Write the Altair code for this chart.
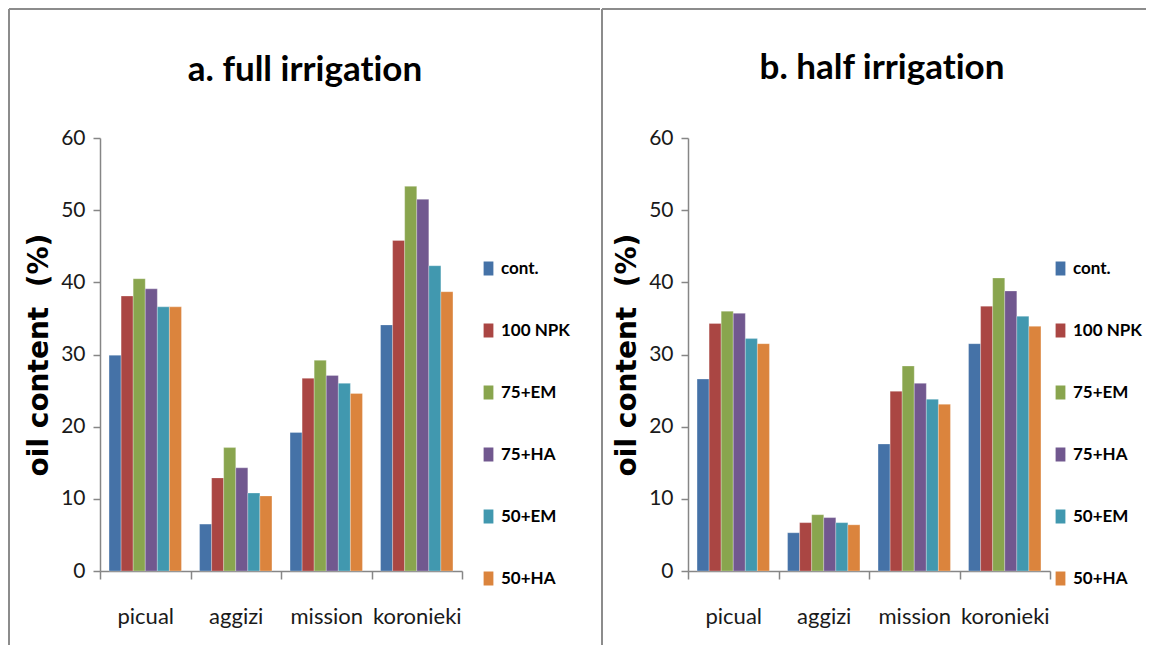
import altair as alt
import pandas as pd

# ---------------- data ----------------
varieties = ["picual", "aggizi", "mission", "koronieki"]
treatments = ["cont.", "100 NPK", "75+EM", "75+HA", "50+EM", "50+HA"]
palette = ["#4572A7", "#AA4643", "#89A54E", "#71588F", "#4198AF", "#DB843D"]

# a. full irrigation (values per variety, in the order of `varieties`)
full_cont = [29.9, 6.5, 19.2, 34.1]
full_npk = [38.1, 12.9, 26.7, 45.8]
full_75em = [40.5, 17.1, 29.2, 53.3]
full_75ha = [39.1, 14.3, 27.1, 51.5]
full_50em = [36.6, 10.8, 26.0, 42.3]
full_50ha = [36.6, 10.4, 24.6, 38.7]

# b. half irrigation
half_cont = [26.6, 5.3, 17.6, 31.5]
half_npk = [34.3, 6.7, 24.9, 36.7]
half_75em = [36.0, 7.8, 28.4, 40.6]
half_75ha = [35.7, 7.4, 26.0, 38.8]
half_50em = [32.2, 6.7, 23.8, 35.3]
half_50ha = [31.5, 6.4, 23.1, 33.9]

y_ticks = [0, 10, 20, 30, 40, 50, 60]
# a zero-width non-joiner keeps the font from fusing "ti" into a ligature
titles = ["a. full irrigat\u200cion", "b. half irrigat\u200cion"]
y_title = "oil content\u00a0\u00a0(%)"


def make_df(series):
    rows = []
    for t, vals in zip(treatments, series):
        for v, val in zip(varieties, vals):
            rows.append({"variety": v, "treatment": t, "oil": val})
    return pd.DataFrame(rows)


full_df = make_df([full_cont, full_npk, full_75em, full_75ha, full_50em, full_50ha])
half_df = make_df([half_cont, half_npk, half_75em, half_75ha, half_50em, half_50ha])

# ---------------- styling ----------------
W, H = 362, 433
FONT = "Lato"
AXIS_GREY = "#868686"
FRAME_GREY = "#8c8c8c"


def panel(df, title, frame_left, frame_right, title_x, title_y, legend_x):
    bars = alt.Chart(df).mark_bar(stroke="white", strokeWidth=0.6, strokeOpacity=0.45).encode(
        x=alt.X(
            "variety:N",
            sort=varieties,
            scale=alt.Scale(paddingInner=0, paddingOuter=0),
            axis=alt.Axis(
                title=None,
                labelAngle=0,
                tickBand="extent",
                tickSize=8,
                tickColor=AXIS_GREY,
                tickWidth=1.5,
                domainColor=AXIS_GREY,
                domainWidth=1.5,
                labelFont=FONT,
                labelFontSize=22,
                labelColor="#1a1a1a",
                labelPadding=27,
            ),
        ),
        xOffset=alt.XOffset(
            "treatment:N",
            sort=treatments,
            scale=alt.Scale(paddingInner=0, paddingOuter=0.75),
        ),
        y=alt.Y(
            "oil:Q",
            scale=alt.Scale(domain=[0, 60], nice=False),
            axis=alt.Axis(
                values=y_ticks,
                grid=False,
                title=y_title,
                titleFont="DejaVu Sans",
                titleFontWeight="bold",
                titleFontSize=28,
                titleColor="#000000",
                titlePadding=7,
                tickSize=7,
                tickColor=AXIS_GREY,
                tickWidth=1.5,
                domainColor=AXIS_GREY,
                domainWidth=1.5,
                labelFont=FONT,
                labelFontSize=21,
                labelColor="#1a1a1a",
                labelPadding=8,
            ),
        ),
        color=alt.Color(
            "treatment:N",
            sort=treatments,
            scale=alt.Scale(domain=treatments, range=palette),
            legend=alt.Legend(
                title=None,
                orient="none",
                legendX=legend_x,
                legendY=122,
                symbolType="M-0.7,-1H0.7V1H-0.7Z",
                symbolSize=196,
                symbolStrokeWidth=0,
                labelFont=FONT,
                labelFontSize=17,
                labelFontWeight="bold",
                labelColor="#000000",
                rowPadding=44,
                labelOffset=4,
            ),
        ),
    )

    title_df = pd.DataFrame({"t": [title]})
    title_mark = alt.Chart(title_df).mark_text(
        font=FONT, fontSize=35, fontWeight="bold", color="#000000",
        align="center", baseline="middle",
    ).encode(text="t:N", x=alt.value(title_x), y=alt.value(title_y))

    frame_df = pd.DataFrame({"f": [1]})
    vline = alt.Chart(frame_df).mark_rule(color=FRAME_GREY, strokeWidth=2).encode(
        x=alt.value(frame_left), y=alt.value(-129), y2=alt.value(507)
    )
    hline = alt.Chart(frame_df).mark_rule(color=FRAME_GREY, strokeWidth=2).encode(
        x=alt.value(frame_left), x2=alt.value(frame_right), y=alt.value(-129)
    )

    return alt.layer(bars, title_mark, vline, hline).properties(width=W, height=H)


left = panel(full_df, titles[0], -91, 500, 205, -68, W + 18)
right = panel(half_df, titles[1], -86, 458, 194, -70, W + 2)

chart = (
    alt.hconcat(left, right, spacing=0)
    .resolve_scale(color="independent")
    .resolve_legend(color="independent")
    .properties(padding=0)
    .configure_view(stroke=None)
)

chart.save("out.html", embed_options={"renderer": "svg", "actions": False})
